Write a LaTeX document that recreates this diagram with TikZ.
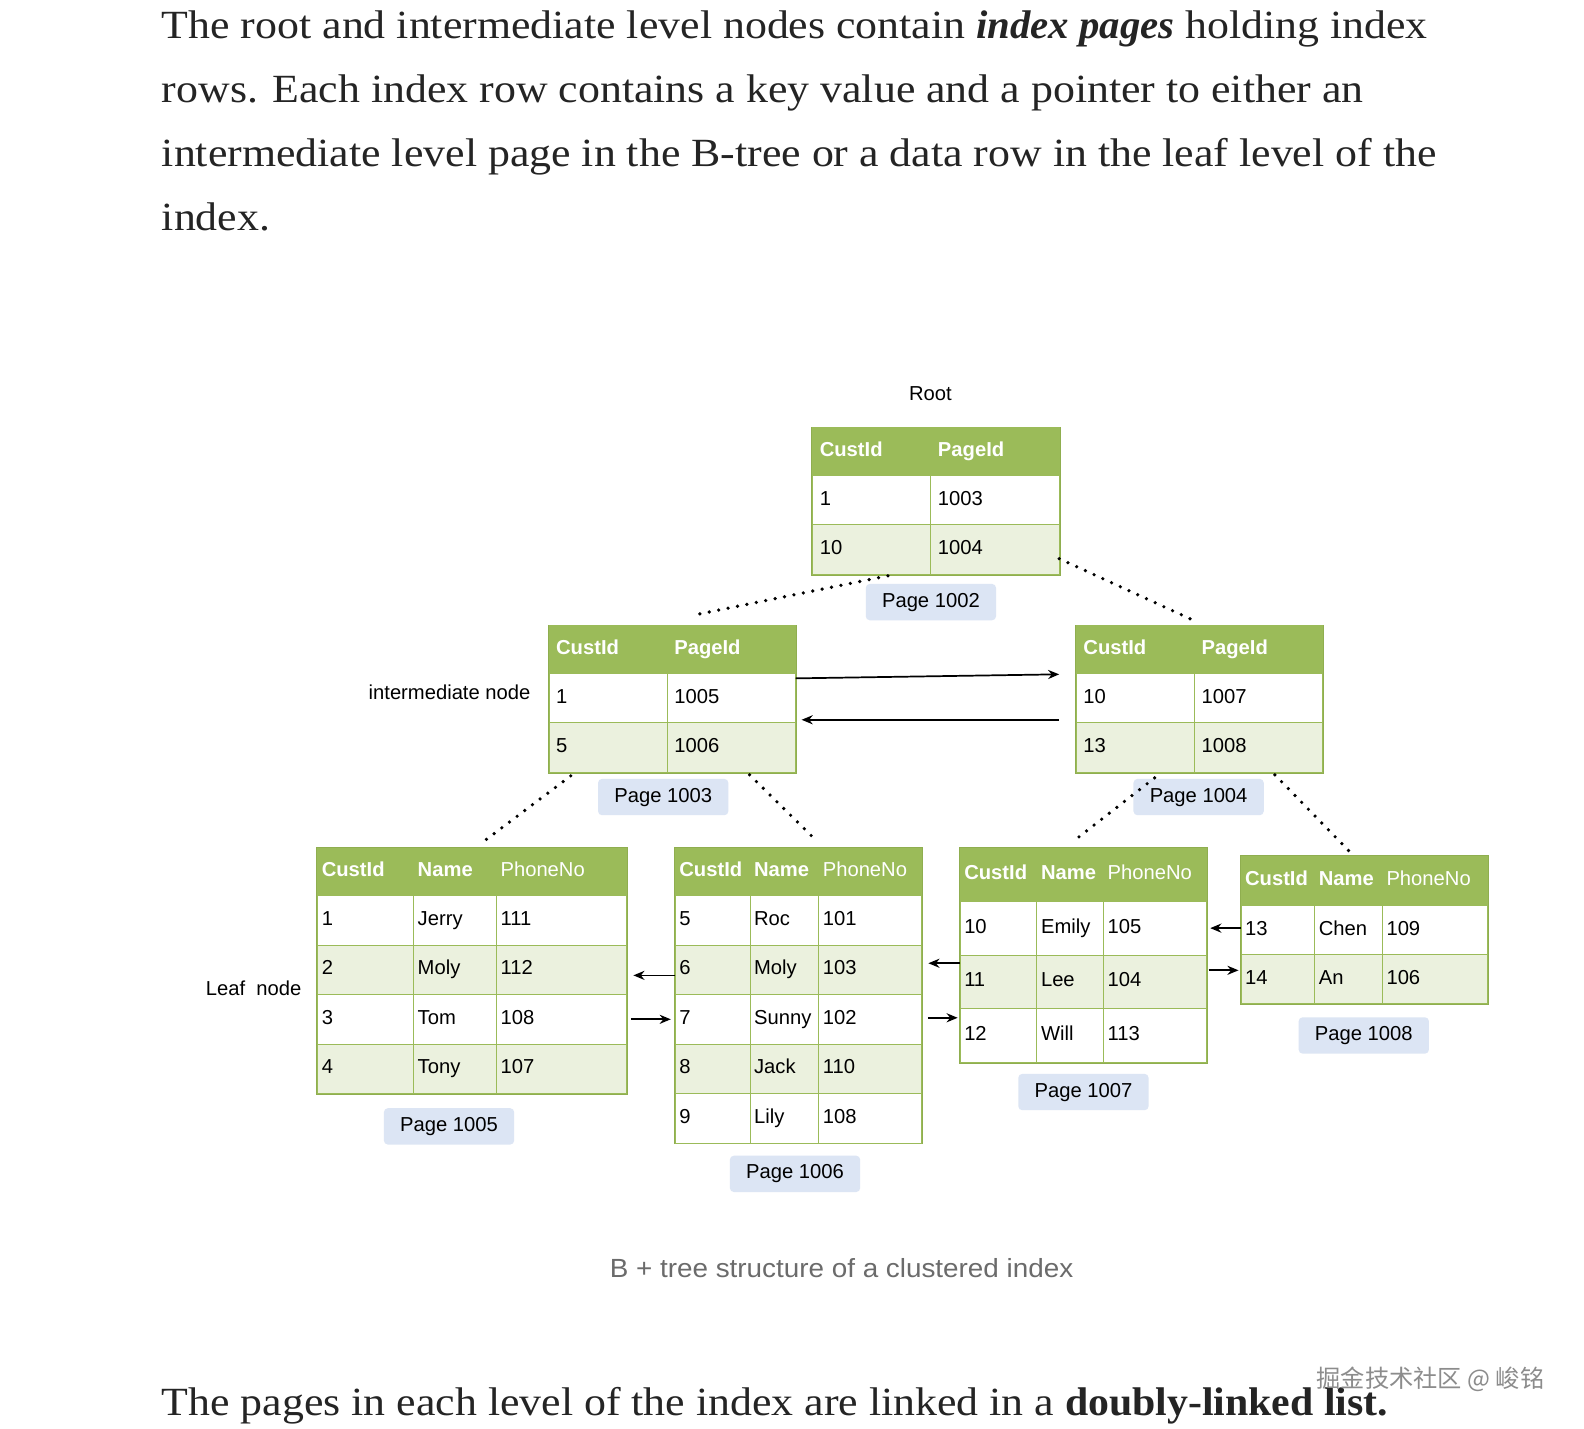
\documentclass[tikz,border=0pt]{standalone}
\usepackage{fontspec}
\setmainfont{Liberation Serif}[FakeStretch=1.096]
\setsansfont{Liberation Sans}
\newfontfamily\capfont{Liberation Sans}[FakeStretch=1.06]
\newfontfamily\cjkfont{Noto Sans CJK SC}
\usetikzlibrary{matrix,arrows.meta,calc}
\definecolor{hdgreen}{HTML}{9BBB59}
\definecolor{rowgreen}{HTML}{EBF1DE}
\definecolor{framegreen}{HTML}{8FAE4F}
\definecolor{lblblue}{HTML}{DCE5F4}
\definecolor{bodytext}{HTML}{242424}
\definecolor{capgray}{HTML}{6B6B6B}
\definecolor{wmgray}{HTML}{8C8C8C}
\newcommand{\tabfont}{\sffamily\fontsize{20}{24}\selectfont}
\tikzset{
  cell/.style={draw=hdgreen, line width=1pt, outer sep=0pt, inner ysep=0pt,
    align=left, text height=14pt, text depth=4pt, font=\tabfont, text=black},
  tbl/.style={matrix of nodes, anchor=north west, inner sep=0pt, outer sep=0pt,
    draw=framegreen, line width=1.6pt,
    column sep=-1pt, row sep=-1pt, nodes={cell},
    row 1/.style={nodes={fill=hdgreen, text=white, font=\tabfont\bfseries}},
    row 2/.style={nodes={fill=white}},
    row 3/.style={nodes={fill=rowgreen}},
    row 4/.style={nodes={fill=white}},
    row 5/.style={nodes={fill=rowgreen}}},
  pad/.style={nodes={inner xsep=#1}},
  rowh/.style={nodes={minimum height=#1}},
  hdh/.style={row 1/.append style={nodes={minimum height=#1}}},
  cwa/.style={column 1/.style={nodes={text width=#1}}},
  cwb/.style={column 2/.style={nodes={text width=#1}}},
  cwc/.style={column 3/.style={nodes={text width=#1}}},
  hdreg/.style={font=\tabfont},
  pagelbl/.style={fill=lblblue, rounded corners=4pt, minimum width=129pt,
    minimum height=36pt, inner sep=0pt, font=\tabfont, text=black},
  plain/.style={font=\tabfont, text=black, inner sep=0pt},
  arr/.style={-{Stealth[length=11pt,width=9pt]}, line width=1.7pt, black},
  dots/.style={line width=3.6pt, line cap=round, dash pattern=on 0pt off 9.5pt, black},
  body/.style={anchor=base west, inner sep=0pt, text=bodytext,
    font=\fontsize{39.6}{48}\selectfont},
}
\begin{document}
\begin{tikzpicture}[x=1pt, y=-1pt]
\useasboundingbox (0,0) rectangle (1568,1414);
\fill[white] (0,0) rectangle (1568,1414);

% body text
\node[body] (p1) at (160,38) {The root and intermediate level nodes contain \scalebox{0.93}[1]{\textbf{\textit{index pages}}} holding index};
\node[body] (p2) at (160,101) {rows. Each index row contains a key value and a pointer to either an};
\node[body] (p3) at (160,165) {intermediate level page in the B-tree or a data row in the leaf level of the};
\node[body] (p4) at (160,228) {index.};
\node[body] (p5) at (160,1401) {The pages in each level of the index are linked in a \scalebox{0.953}[1]{\textbf{doubly-linked list.}}};

% labels
\node[plain] (rootlbl) at (921,390) {Root};
\node[plain] (intlbl) at (445,685) {intermediate node};
\node[plain] (leaflbl) at (251,978) {Leaf\ \ node};

% root
\matrix[tbl, pad=7pt, rowh=49pt, hdh=47pt, cwa=103pt, cwb=113pt] (rt) at (804,423) {
CustId & PageId \\
1 & 1003 \\
10 & 1004 \\
};
% intermediate
\matrix[tbl, pad=7pt, rowh=49pt, hdh=47pt, cwa=103pt, cwb=113pt] (il) at (543,619) {
CustId & PageId \\
1 & 1005 \\
5 & 1006 \\
};
\matrix[tbl, pad=7pt, rowh=49pt, hdh=47pt, cwa=103pt, cwb=113pt] (ir) at (1065,619) {
CustId & PageId \\
10 & 1007 \\
13 & 1008 \\
};
% leaves
\matrix[tbl, pad=4pt, rowh=49pt, hdh=47pt, cwa=87pt, cwb=74pt, cwc=121pt] (la) at (314,839) {
CustId & Name & |[hdreg]| PhoneNo \\
1 & Jerry & 111 \\
2 & Moly & 112 \\
3 & Tom & 108 \\
4 & Tony & 107 \\
};
\matrix[tbl, pad=4pt, rowh=49pt, hdh=47pt, cwa=66pt, cwb=60pt, cwc=94pt] (lb) at (668,839) {
CustId & Name & |[hdreg]| PhoneNo \\
5 & Roc & 101 \\
6 & Moly & 103 \\
7 & Sunny & 102 \\
8 & Jack & 110 \\
9 & Lily & 108 \\
};
\matrix[tbl, pad=4pt, rowh=53pt, hdh=53pt, cwa=68pt, cwb=58pt, cwc=94pt] (lc) at (950,839) {
CustId & Name & |[hdreg]| PhoneNo \\
10 & Emily & 105 \\
11 & Lee & 104 \\
12 & Will & 113 \\
};
\matrix[tbl, pad=4pt, rowh=48.5pt, hdh=49pt, cwa=65pt, cwb=59pt, cwc=96pt] (ld) at (1228,847) {
CustId & Name & |[hdreg]| PhoneNo \\
13 & Chen & 109 \\
14 & An & 106 \\
};

% page labels
\node[pagelbl] (pg1002) at (921.5,596) {Page 1002};
\node[pagelbl] (pg1003) at (656.5,789) {Page 1003};
\node[pagelbl] (pg1004) at (1186.5,789) {Page 1004};
\node[pagelbl] (pg1005) at (444.5,1115) {Page 1005};
\node[pagelbl] (pg1006) at (787,1162) {Page 1006};
\node[pagelbl] (pg1007) at (1072.5,1081) {Page 1007};
\node[pagelbl] (pg1008) at (1350,1025) {Page 1008};

% intermediate links
\draw[arr] ($(il-2-2.north east)+(0,5)$) -- ($(ir-2-1.north west)+(-17,1)$);
\draw[arr] ($(ir-3-1.north west)+(-17,-3)$) -- ($(il-3-2.north east)+(6,-3)$);

% leaf links
\coordinate (l1) at ($(lb-3-1.west)+(0,5.5)$);
\draw[arr] (l1) -- ($(la.east |- l1)+(6,0)$);
\coordinate (l2) at ($(la-4-3.east)+(4,0)$);
\draw[arr] (l2) -- ($(lb.west |- l2)+(-4,0)$);
\coordinate (l3) at ($(lc-2-1.south west)+(0,8)$);
\draw[arr] (l3) -- ($(lb.east |- l3)+(6,0)$);
\coordinate (l4) at ($(lb-4-3.east)+(6,-1.5)$);
\draw[arr] (l4) -- ($(lc.west |- l4)+(-2,0)$);
\coordinate (l5) at ($(ld-2-1.west)+(0,-2)$);
\draw[arr] (l5) -- ($(lc.east |- l5)+(3,0)$);
\coordinate (l6) at ($(lc-3-3.east)+(2,-11.5)$);
\draw[arr] (l6) -- ($(ld.west |- l6)+(-2,0)$);

% tree (dotted) links
\draw[dots] ($(rt.south west)+(75,1)$) -- ($(il.north west)+(143,-10)$);
\draw[dots] ($(rt-3-2.east)+(0,9)$) -- ($(ir.north)+(-4,-4)$);
\draw[dots] ($(il.south west)+(22,3)$) -- ($(la.north west)+(166,-7)$);
\draw[dots] ($(il.south west)+(199,2)$) -- ($(lb.north west)+(140,-7)$);
\draw[dots] ($(ir.south west)+(78,5)$) -- ($(lc.north west)+(116,-9)$);
\draw[dots] ($(ir.south west)+(197,2)$) -- ($(ld.north west)+(107,-5)$);

% caption and watermark
\node[font=\capfont\fontsize{26}{30}\selectfont, text=capgray, inner sep=0pt] (cap) at (833,1255) {B + tree structure of a clustered index};
\node[font=\cjkfont\fontsize{24}{28}\selectfont, text=wmgray, inner sep=0pt] (wm) at (1416,1365) {掘金技术社区 @ 峻铭};
\end{tikzpicture}
\end{document}
